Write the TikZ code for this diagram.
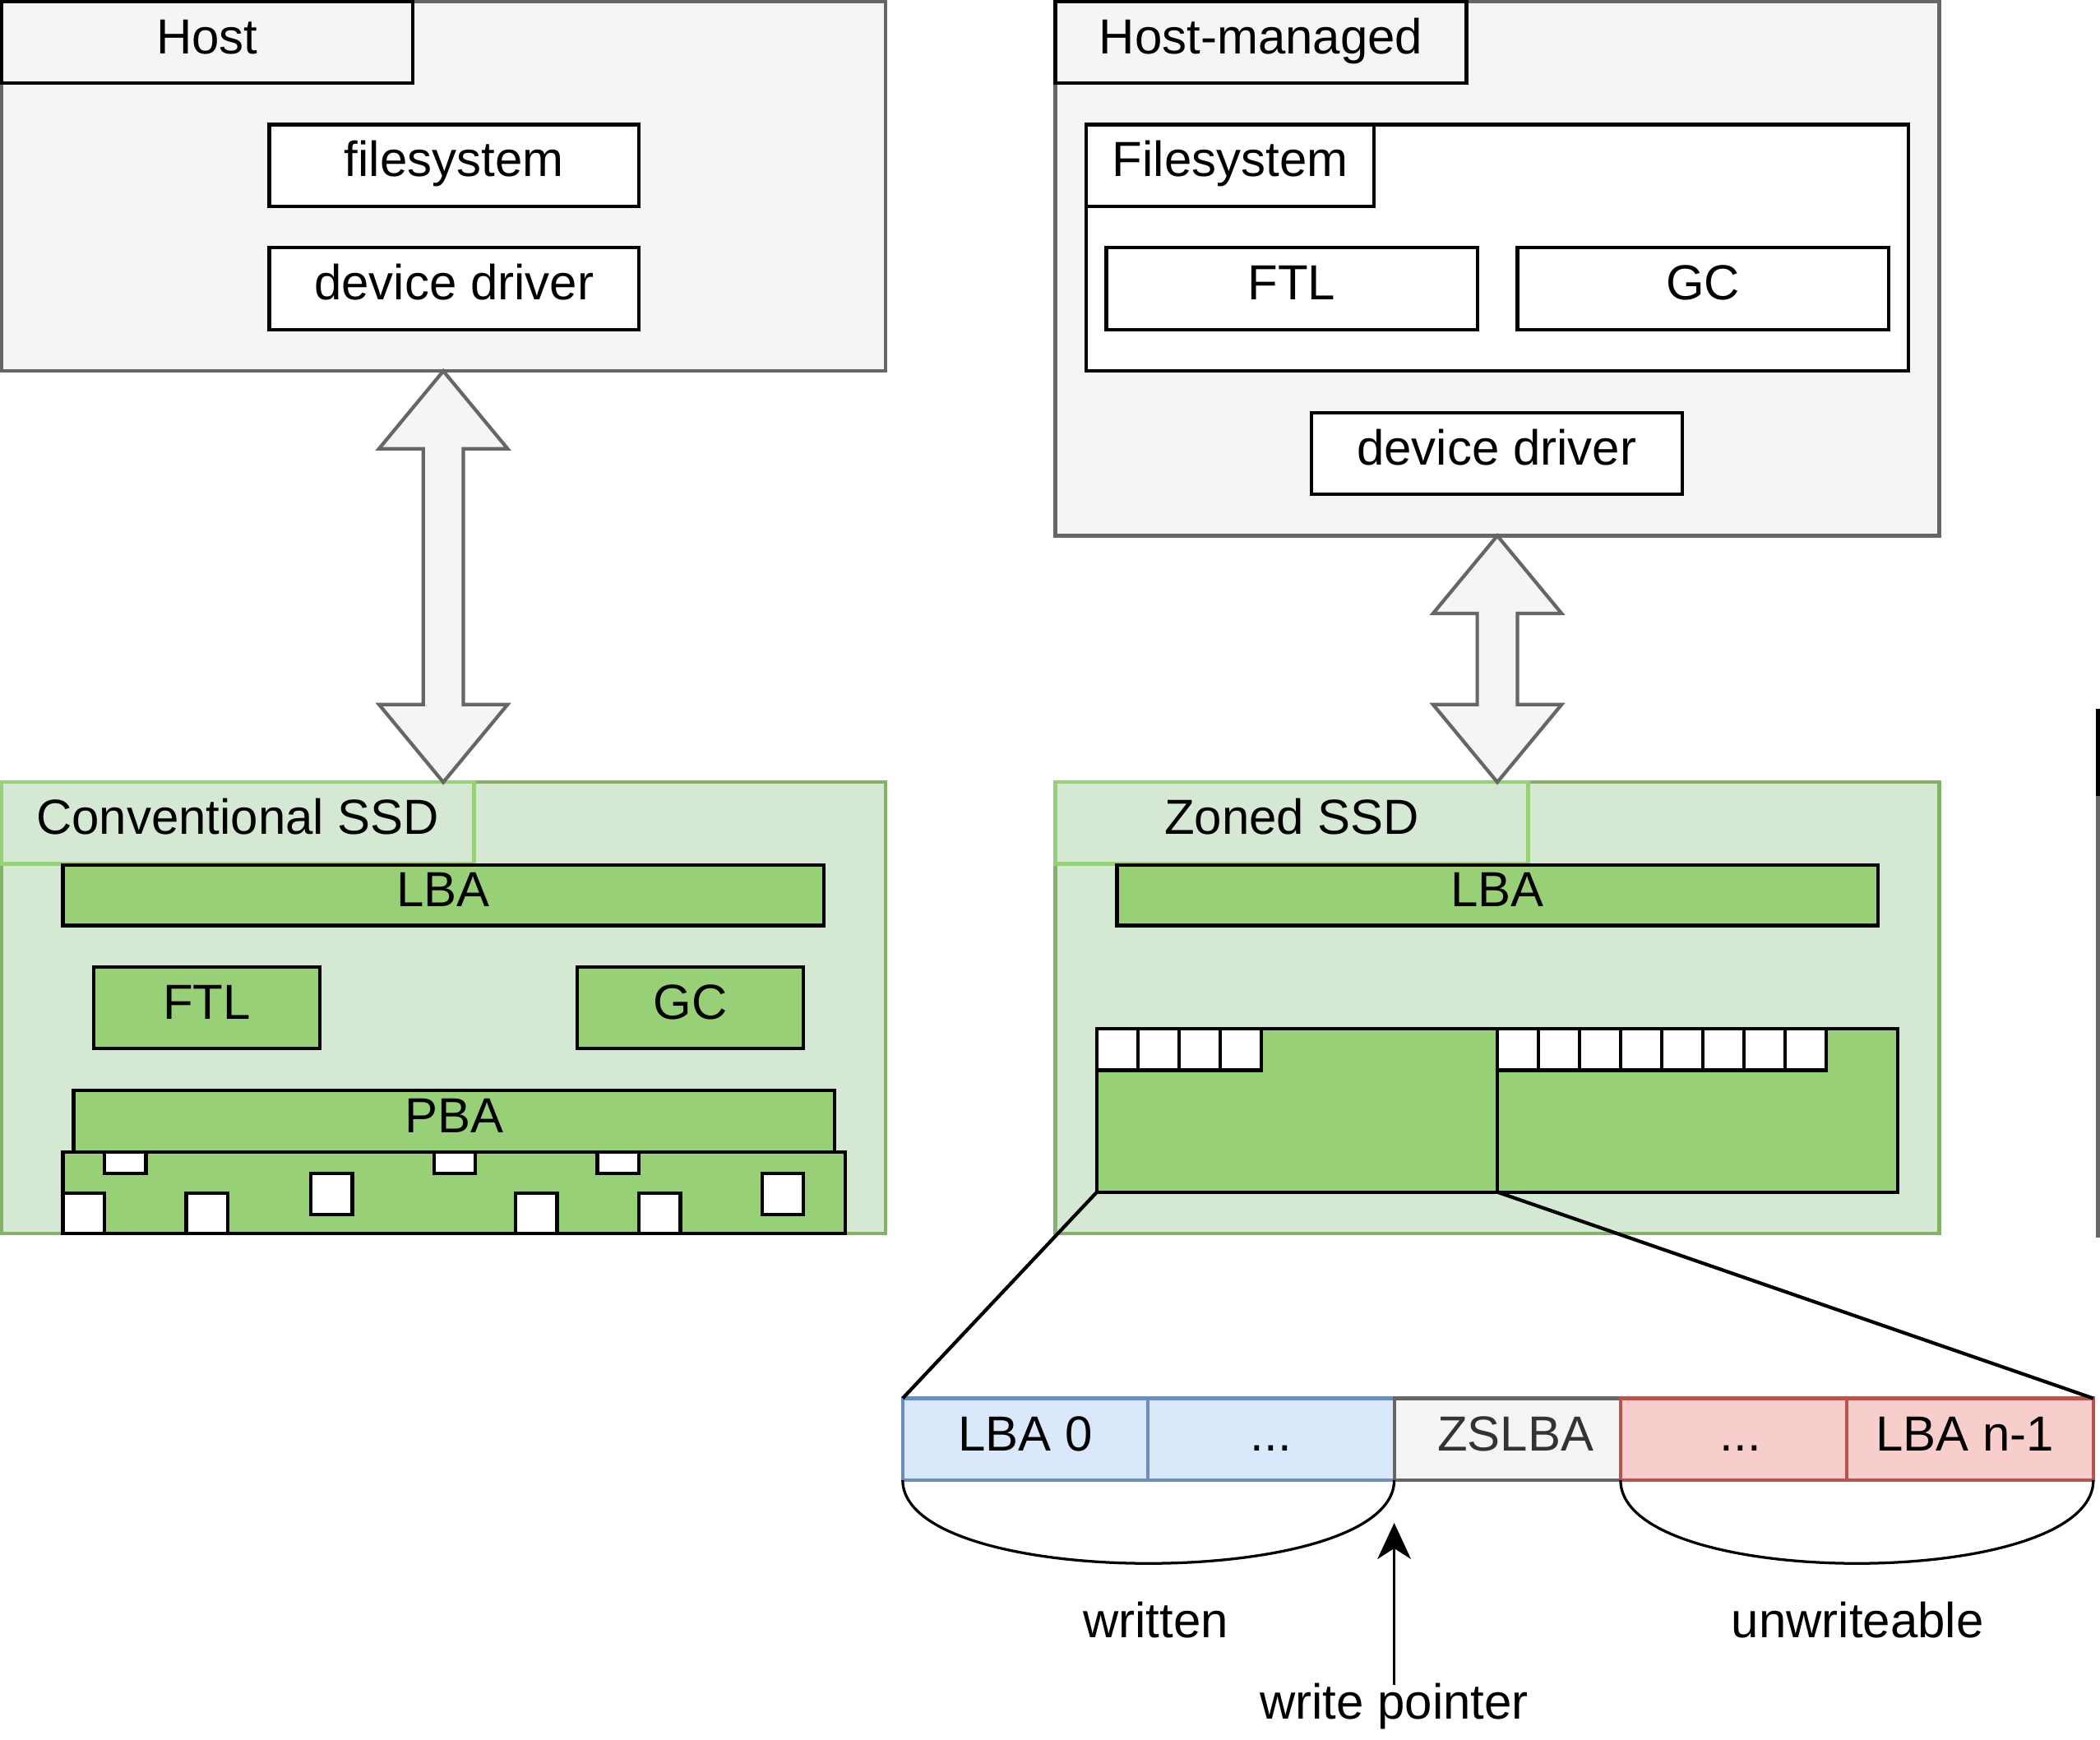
\documentclass[tikz,border=0pt]{standalone}
\usepackage{fontspec}
\setmainfont{Liberation Sans}
\usetikzlibrary{fit,calc,arrows.meta}
\definecolor{hostfill}{HTML}{F5F5F5}
\definecolor{hoststroke}{HTML}{666666}
\definecolor{ssdfill}{HTML}{D5E8D4}
\definecolor{ssdstroke}{HTML}{82B366}
\definecolor{greenfill}{HTML}{97D077}
\definecolor{bluefill}{HTML}{DAE8FC}
\definecolor{bluestroke}{HTML}{6C8EBF}
\definecolor{redfill}{HTML}{F8CECC}
\definecolor{redstroke}{HTML}{B85450}
\definecolor{darktext}{HTML}{333333}
\begin{document}
\begin{tikzpicture}[x=0.5pt,y=-0.5pt,
  every node/.style={inner sep=0pt, outer sep=0pt, font=\fontsize{18.4pt}{22pt}\selectfont},
  txt/.style={text height=12.7pt, text depth=4.2pt},
  every label/.style={txt},
  hostbox/.style={draw=hoststroke, fill=hostfill, line width=1.3pt},
  titlebox/.style={draw=black, fill=hostfill, line width=1.3pt},
  whitebox/.style={draw=black, fill=white, line width=1.3pt},
  ssdbox/.style={draw=ssdstroke, fill=ssdfill, line width=1.3pt},
  ssdtitle/.style={draw=greenfill, fill=ssdfill, line width=1.3pt},
  greenbox/.style={draw=black, fill=greenfill, line width=1.3pt},
  cellbox/.style={draw=black, fill=white, line width=1.3pt},
  blockarrow/.style={draw=hoststroke, fill=hostfill, line width=1.3pt, line join=miter},
  bluebox/.style={draw=bluestroke, fill=bluefill, line width=1.3pt},
  graybox/.style={draw=hoststroke, fill=hostfill, line width=1.3pt},
  redbox/.style={draw=redstroke, fill=redfill, line width=1.3pt},
  curve/.style={line width=1pt},
  pointer/.style={line width=1pt, -{Stealth[length=13.5pt,width=12.5pt,inset=4pt]}}
]
\useasboundingbox (0,0) rectangle (1568,1298.5);

% ---------- Host (left) ----------
\node[hostbox, fit={(1,1) (661,277)}] (host) {};
\node[titlebox, fit={(1,1) (308,62)}, label=center:Host] (hosttitle) {};
\node[whitebox, fit={(201,93) (477,154)}, label=center:filesystem] (fs) {};
\node[whitebox, fit={(201,185) (477,246)}, label=center:device driver] (dd) {};

% ---------- Conventional SSD ----------
\node[ssdbox, fit={(1,584) (661,921)}] (conv) {};
\node[ssdtitle, fit={(1,584) (354,645)}, label=center:Conventional SSD] (convtitle) {};
\node[greenbox, fit={(47,646) (615,691)}, label=center:LBA] (clba) {};
\node[greenbox, fit={(70,722) (239,783)}, label=center:FTL] (cftl) {};
\node[greenbox, fit={(431,722) (600,783)}, label=center:GC] (cgc) {};
\node[greenbox, fit={(55,814) (623,860)}, label=center:PBA] (pba) {};
\node[greenbox, fit={(47,860) (631,921)}] (flash) {};
\foreach \x [count=\i] in {78,324,446}
  \node[cellbox, fit={(\x,860) (\x+31,876)}] (sqa\i) {};
\foreach \x [count=\i] in {232,569}
  \node[cellbox, fit={(\x,876) (\x+31,907)}] (sqb\i) {};
\foreach \x [count=\i] in {47,139,385,477}
  \node[cellbox, fit={(\x,891) (\x+31,921)}] (sqc\i) {};

% ---------- Host-managed (right) ----------
\node[hostbox, fit={(788,1) (1448,400)}] (hm) {};
\node[titlebox, fit={(788,1) (1095,62)}, label=center:Host-managed] (hmtitle) {};
\node[whitebox, fit={(811,93) (1425,277)}] (fsc) {};
\node[whitebox, fit={(811,93) (1026,154)}, label=center:Filesystem] (fstitle) {};
\node[whitebox, fit={(826,185) (1103,246)}, label=center:FTL] (hftl) {};
\node[whitebox, fit={(1133,185) (1410,246)}, label=center:GC] (hgc) {};
\node[whitebox, fit={(979,308) (1256,369)}, label=center:device driver] (hdd) {};

% ---------- Zoned SSD ----------
\node[ssdbox, fit={(788,584) (1448,921)}] (zoned) {};
\node[ssdtitle, fit={(788,584) (1141,645)}, label=center:Zoned SSD] (zonedtitle) {};
\node[greenbox, fit={(834,646) (1402,691)}, label=center:LBA] (zlba) {};
\node[greenbox, fit={(819,768) (1118,890)}] (zone1) {};
\node[greenbox, fit={(1118,768) (1417,890)}] (zone2) {};
\foreach \i in {0,...,3}
  \node[cellbox, fit={(819+30.7*\i,768) (819+30.7*\i+30.7,799)}] (za\i) {};
\foreach \i in {0,...,7}
  \node[cellbox, fit={(1118+30.7*\i,768) (1118+30.7*\i+30.7,799)}] (zb\i) {};

% ---------- block arrows ----------
\draw[blockarrow] (host.south) -- ++(48,58) -- ++(-33,0) -- ($(conv.north)+(15,-58)$) -- ++(33,0)
  -- (conv.north) -- ++(-48,-58) -- ++(33,0) -- ($(host.south)+(-15,58)$) -- ++(-33,0) -- cycle;
\draw[blockarrow] (hm.south) -- ++(48,58) -- ++(-33,0) -- ($(zoned.north)+(15,-58)$) -- ++(33,0)
  -- (zoned.north) -- ++(-48,-58) -- ++(33,0) -- ($(hm.south)+(-15,58)$) -- ++(-33,0) -- cycle;

% ---------- zone detail ----------
\node[bluebox, fit={(674,1044) (857,1105)}, label=center:LBA 0] (l0) {};
\node[bluebox, fit={(857,1044) (1041,1105)}, label=center:...] (ld1) {};
\node[graybox, fit={(1041,1044) (1210,1105)}, label={[text=darktext, xshift=3pt]center:ZSLBA}] (zs) {};
\node[redbox, fit={(1210,1044) (1379,1105)}, label={[xshift=2.5pt]center:...}] (ld2) {};
\node[redbox, fit={(1379,1044) (1563,1105)}, label={[xshift=-2pt]center:LBA n-1}] (ln) {};

\draw[line width=1.3pt] (zone1.south west) -- (l0.north west);
\draw[line width=1.3pt] (zone2.south west) -- (ln.north east);

\draw[curve] (l0.south west) .. controls ($(l0.south west)+(0,83)$) and ($(ld1.south east)+(0,83)$) .. (ld1.south east);
\draw[curve] (ld2.south west) .. controls ($(ld2.south west)+(0,83)$) and ($(ln.south east)+(0,83)$) .. (ln.south east);

\node[txt] (written) at (863,1214) {written};
\node[txt] (unwrite) at (1387,1214) {unwriteable};
\node[txt] (wp) at (1041,1275) {write pointer};
\coordinate (wptip) at (1041,1137);
\draw[pointer] (wp.north) -- (wptip);

% ---------- cropped panel edge at right ----------
\coordinate (edgetop) at (1566.5,529);
\coordinate (edgemid) at (1566.5,594);
\coordinate (edgebot) at (1566.5,924);
\draw[draw=hoststroke, line width=1.3pt] (edgetop) -- (edgebot);
\draw[draw=black, line width=1.3pt] (edgetop) -- (edgemid);
\end{tikzpicture}
\end{document}
